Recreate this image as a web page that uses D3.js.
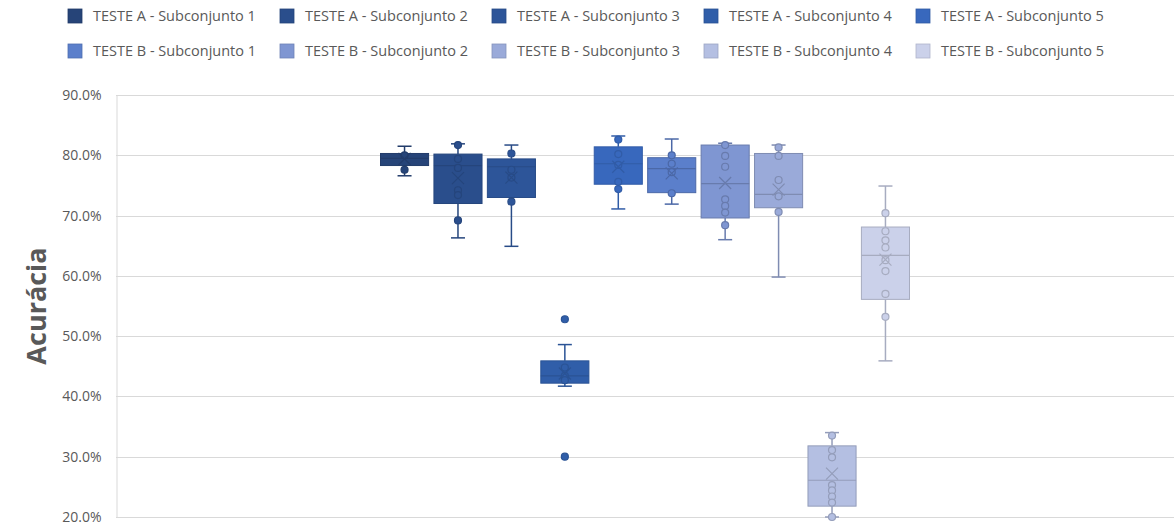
<!DOCTYPE html>
<html>
<head>
<meta charset="utf-8">
<script src="https://cdn.jsdelivr.net/npm/d3@7"></script>
<style>
  html, body { margin: 0; padding: 0; background: #fff; }
  svg { display: block; font-family: "Open Sans", "Noto Sans", sans-serif; }
</style>
</head>
<body>
<svg id="chart" width="1174" height="526"></svg>
<script>
// ---- data ----
const categories = ["Acurácia"];
const series = [
  "TESTE A - Subconjunto 1", "TESTE A - Subconjunto 2", "TESTE A - Subconjunto 3",
  "TESTE A - Subconjunto 4", "TESTE A - Subconjunto 5",
  "TESTE B - Subconjunto 1", "TESTE B - Subconjunto 2", "TESTE B - Subconjunto 3",
  "TESTE B - Subconjunto 4", "TESTE B - Subconjunto 5"
];
const whiskerLow  = [0.766, 0.663, 0.649, 0.417, 0.711, 0.719, 0.660, 0.598, 0.200, 0.459];
const q1          = [0.783, 0.720, 0.730, 0.422, 0.752, 0.738, 0.696, 0.713, 0.218, 0.561];
const median      = [0.795, 0.783, 0.781, 0.434, 0.786, 0.778, 0.753, 0.735, 0.261, 0.634];
const q3          = [0.803, 0.802, 0.794, 0.459, 0.814, 0.796, 0.817, 0.803, 0.318, 0.681];
const whiskerHigh = [0.815, 0.819, 0.817, 0.486, 0.832, 0.827, 0.820, 0.817, 0.340, 0.749];
const mean        = [0.794, 0.762, 0.763, 0.438, 0.781, 0.770, 0.754, 0.743, 0.272, 0.627];
const innerPoints = [
  [0.800, 0.776],
  [0.817, 0.794, 0.779, 0.742, 0.734, 0.692],
  [0.803, 0.776, 0.763, 0.723],
  [0.448, 0.434, 0.427],
  [0.826, 0.802, 0.784, 0.756, 0.744],
  [0.800, 0.786, 0.772, 0.737],
  [0.817, 0.799, 0.781, 0.727, 0.716, 0.705, 0.684],
  [0.813, 0.799, 0.759, 0.732, 0.706],
  [0.335, 0.311, 0.299, 0.253, 0.244, 0.234, 0.224, 0.200],
  [0.704, 0.674, 0.659, 0.647, 0.626, 0.608, 0.570, 0.532]
];
const outliers = [[], [], [], [0.528, 0.300], [], [], [], [], [], []];
const yTicks = [0.2, 0.3, 0.4, 0.5, 0.6, 0.7, 0.8, 0.9];
const colors = ["#264478", "#2a4e8c", "#2d5599", "#305ea9", "#3868bd",
                "#5b7fcb", "#7f96d2", "#9aaad9", "#b4bfe2", "#cbd1ea"];
const yTitle = "Acurácia";

// ---- layout ----
const svg = d3.select("#chart");
const plot = { left: 116, right: 1174, top: 95, bottom: 517 };

const y = d3.scaleLinear().domain([0.2, 0.9]).range([plot.bottom, plot.top]);
const x0 = d3.scaleBand().domain(categories).range([plot.left, plot.right])
  .paddingInner(0.5).paddingOuter(0.25);
const x1 = d3.scaleBand().domain(series).range([0, x0.bandwidth()]).paddingInner(0.1);

const textColor = "#595959";

// gridlines
svg.append("g").selectAll("line").data(yTicks).join("line")
  .attr("x1", plot.left).attr("x2", plot.right)
  .attr("y1", d => Math.round(y(d)) + 0.5).attr("y2", d => Math.round(y(d)) + 0.5)
  .attr("stroke", "#d9d9d9").attr("stroke-width", 1);

// y axis
const yAxis = d3.axisLeft(y).tickValues(yTicks).tickFormat(d3.format(".1%")).tickSize(0).tickPadding(15);
const gy = svg.append("g").attr("transform", `translate(${plot.left + 0.5},0)`).call(yAxis);
gy.select(".domain").attr("stroke", "#d9d9d9");
gy.selectAll("text").attr("fill", textColor).attr("font-size", 14)
  .attr("font-family", "'Open Sans', sans-serif");

// y title
svg.append("text")
  .attr("transform", `translate(46, ${(plot.top + plot.bottom) / 2}) rotate(-90)`)
  .attr("text-anchor", "middle")
  .attr("fill", textColor).attr("font-size", 27).attr("font-weight", "bold")
  .text(yTitle);

// boxes
const cat = categories[0];
series.forEach((s, i) => {
  const fill = colors[i];
  const stroke = d3.color(fill).darker(i < 5 ? 0.35 : 0.55).formatHex();
  const bx = x0(cat) + x1(s);
  const bw = x1.bandwidth();
  const cx = bx + bw / 2;
  const g = svg.append("g");
  const capW = 14;

  // whiskers
  g.append("line").attr("x1", cx).attr("x2", cx)
    .attr("y1", y(whiskerHigh[i])).attr("y2", y(q3[i]))
    .attr("stroke", stroke).attr("stroke-width", 1.5);
  g.append("line").attr("x1", cx).attr("x2", cx)
    .attr("y1", y(q1[i])).attr("y2", y(whiskerLow[i]))
    .attr("stroke", stroke).attr("stroke-width", 1.5);
  [whiskerHigh[i], whiskerLow[i]].forEach(v => {
    g.append("line").attr("x1", cx - capW / 2).attr("x2", cx + capW / 2)
      .attr("y1", y(v)).attr("y2", y(v))
      .attr("stroke", stroke).attr("stroke-width", 1.5);
  });

  // box
  g.append("rect").attr("x", bx).attr("width", bw)
    .attr("y", y(q3[i])).attr("height", y(q1[i]) - y(q3[i]))
    .attr("fill", fill).attr("stroke", stroke).attr("stroke-width", 1);

  // median
  g.append("line").attr("x1", bx).attr("x2", bx + bw)
    .attr("y1", y(median[i])).attr("y2", y(median[i]))
    .attr("stroke", stroke).attr("stroke-width", 1.2);

  // points
  g.selectAll("circle.p").data(innerPoints[i].concat(outliers[i])).join("circle")
    .attr("class", "p")
    .attr("cx", cx).attr("cy", d => y(d)).attr("r", 3.5)
    .attr("fill", fill).attr("stroke", stroke).attr("stroke-width", 1.2);

  // mean marker
  const my = y(mean[i]), m = 6;
  g.append("path")
    .attr("d", `M${cx - m},${my - m}L${cx + m},${my + m}M${cx - m},${my + m}L${cx + m},${my - m}`)
    .attr("stroke", stroke).attr("stroke-width", 1.2).attr("fill", "none");
});

// legend
const legend = svg.append("g");
const legItem = legend.selectAll("g").data(series).join("g")
  .attr("transform", (d, i) => `translate(${68 + (i % 5) * 212}, ${16 + Math.floor(i / 5) * 35})`);
legItem.append("rect").attr("x", 0).attr("y", -7).attr("width", 14).attr("height", 14)
  .attr("fill", (d, i) => colors[i])
  .attr("stroke", (d, i) => d3.color(colors[i]).darker(0.4).formatHex()).attr("stroke-width", 0.8);
legItem.append("text").attr("x", 25).attr("y", 0).attr("dy", "0.35em")
  .attr("fill", textColor).attr("font-size", 14.5).text(d => d);
</script>
</body>
</html>
